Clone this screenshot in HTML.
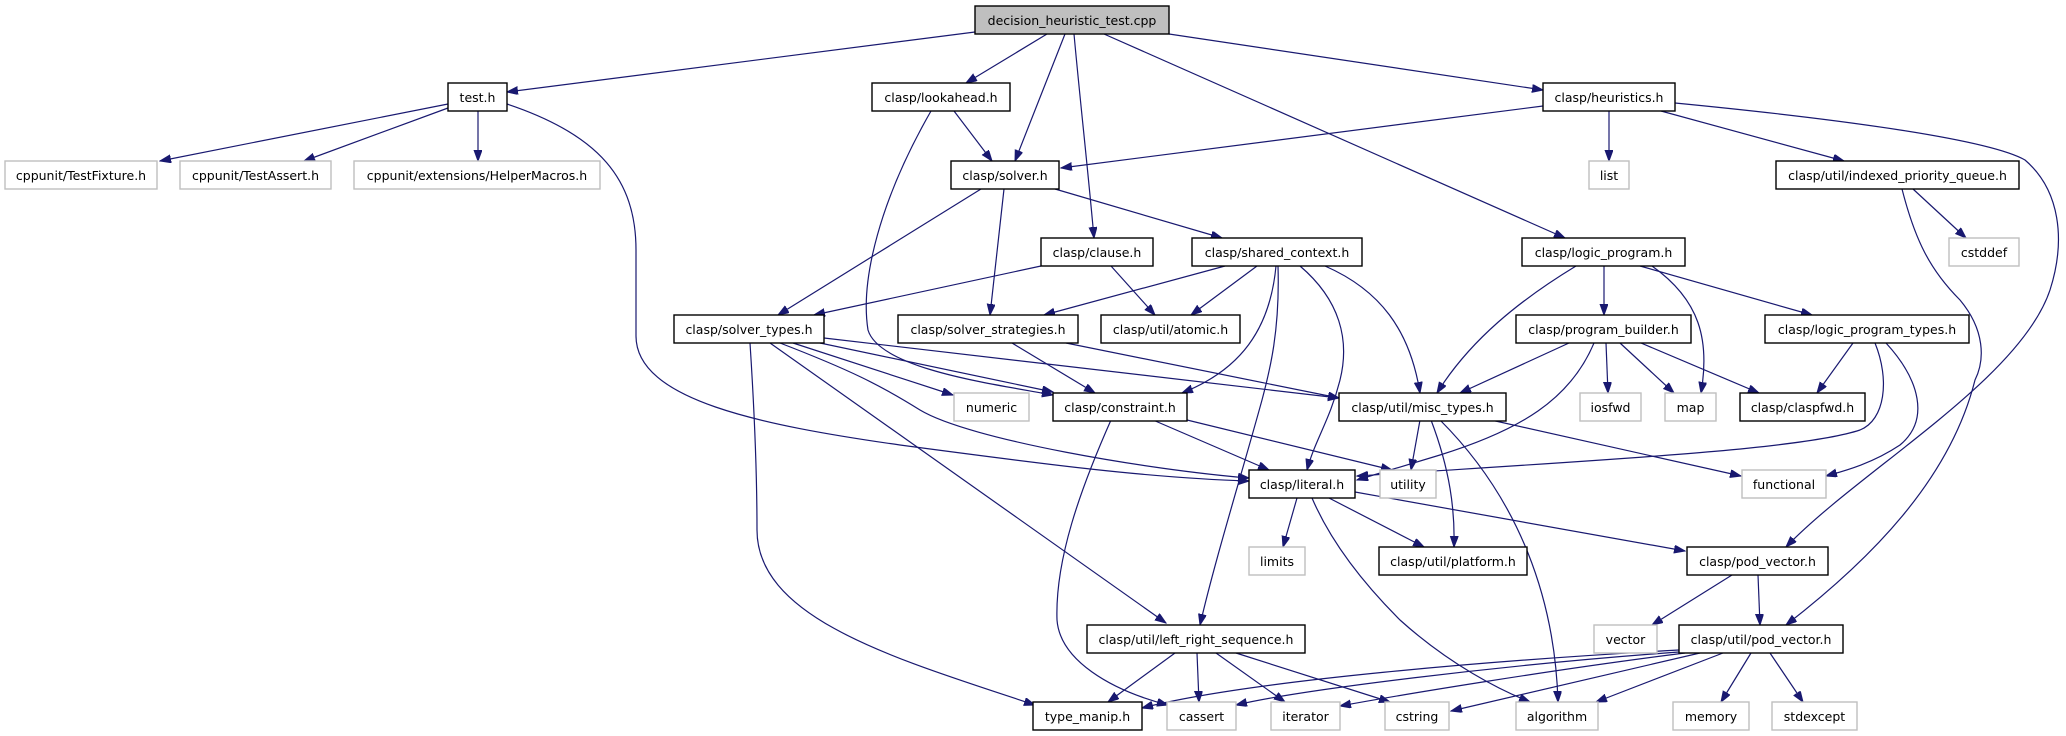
<!DOCTYPE html>
<html><head><meta charset="utf-8"><style>
html,body{margin:0;padding:0;background:#fff;}
svg{display:block;}
text{font-family:"DejaVu Sans","Liberation Sans",sans-serif;font-size:12.5px;text-anchor:middle;fill:#000;}
.n{fill:#fff;stroke:#000;stroke-width:1.4;}
.g{fill:#fff;stroke:#bfbfbf;stroke-width:1.4;}
.e{fill:none;stroke:#191970;stroke-width:1.2;marker-end:url(#a);}
</style></head><body>
<svg width="2066" height="736" viewBox="0 0 2066 736" xmlns="http://www.w3.org/2000/svg">
<defs><marker id="a" markerUnits="userSpaceOnUse" markerWidth="12" markerHeight="9" refX="11" refY="4" orient="auto"><path d="M0,0 L11,4 L0,8 z" fill="#191970" stroke="#191970"/></marker></defs>
<g>
<path class="e" d="M975,32 L507,92"/>
<path class="e" d="M1047,34 L966,83"/>
<path class="e" d="M1065,34 L1015,161"/>
<path class="e" d="M1074,34 C1080,100 1088,170 1094,238"/>
<path class="e" d="M1104,34 L1565,238"/>
<path class="e" d="M1169,34 L1543,90"/>
<path class="e" d="M448,104 L160,161"/>
<path class="e" d="M448,108 L304,161"/>
<path class="e" d="M478,111 L478,161"/>
<path class="e" d="M507,104 C600,135 636,180 636,250 L636,336 C636,400 760,425 900,445 C1050,465 1150,478 1249,481"/>
<path class="e" d="M954,111 L992,161"/>
<path class="e" d="M931,111 C880,200 860,280 868,330 C880,370 1000,385 1053,395"/>
<path class="e" d="M1543,106 L1061,168"/>
<path class="e" d="M1609,111 L1609,161"/>
<path class="e" d="M1661,111 L1844,161"/>
<path class="e" d="M1675,103 C1850,120 1990,140 2025,160 C2060,190 2066,240 2050,290 C2020,380 1860,470 1786,547"/>
<path class="e" d="M1913,189 L1966,238"/>
<path class="e" d="M1902,189 C1915,240 1930,270 1960,300 C1985,330 1985,360 1975,380 C1950,480 1870,560 1786,625"/>
<path class="e" d="M981,189 L778,315"/>
<path class="e" d="M1004,189 L990,315"/>
<path class="e" d="M1055,189 L1222,238"/>
<path class="e" d="M1041,266 L814,315"/>
<path class="e" d="M1111,266 L1155,315"/>
<path class="e" d="M1225,266 L1044,315"/>
<path class="e" d="M1257,266 L1191,315"/>
<path class="e" d="M1276,266 C1270,330 1240,370 1182,393"/>
<path class="e" d="M1278,266 C1280,330 1270,370 1262,400 C1240,480 1215,560 1200,625"/>
<path class="e" d="M1300,266 C1340,300 1350,340 1340,380 C1330,420 1315,440 1307,470"/>
<path class="e" d="M1325,266 C1380,290 1410,330 1420,393"/>
<path class="e" d="M1576,266 C1520,300 1470,340 1437,393"/>
<path class="e" d="M1569,343 L1460,393"/>
<path class="e" d="M1594,343 C1570,400 1520,430 1440,455 L1357,480"/>
<path class="e" d="M1606,343 L1608,393"/>
<path class="e" d="M1620,343 L1674,393"/>
<path class="e" d="M1641,343 L1759,393"/>
<path class="e" d="M1652,266 C1700,300 1710,340 1701,393"/>
<path class="e" d="M1604,266 L1604,315"/>
<path class="e" d="M1640,266 L1812,315"/>
<path class="e" d="M1853,343 L1817,393"/>
<path class="e" d="M1886,343 C1920,380 1930,420 1900,445 C1870,465 1840,472 1826,476"/>
<path class="e" d="M1875,343 C1890,380 1885,420 1860,430 C1800,450 1600,460 1357,476"/>
<path class="e" d="M793,343 L953,395"/>
<path class="e" d="M820,343 L1053,392"/>
<path class="e" d="M824,338 L1339,398"/>
<path class="e" d="M780,343 C850,370 880,385 920,410 C970,440 1150,470 1249,478"/>
<path class="e" d="M770,343 L1166,623"/>
<path class="e" d="M750,343 C755,420 757,480 757,530 C757,620 900,660 1035,705"/>
<path class="e" d="M1012,343 L1095,393"/>
<path class="e" d="M1066,343 L1339,398"/>
<path class="e" d="M1153,420 L1269,470"/>
<path class="e" d="M1187,420 L1392,470"/>
<path class="e" d="M1111,420 C1080,490 1055,560 1057,620 C1060,660 1110,690 1168,705"/>
<path class="e" d="M1420,420 L1411,470"/>
<path class="e" d="M1431,420 C1450,470 1455,510 1454,547"/>
<path class="e" d="M1440,420 C1520,500 1555,600 1558,702"/>
<path class="e" d="M1491,420 L1741,476"/>
<path class="e" d="M1297,498 L1283,547"/>
<path class="e" d="M1329,498 L1424,547"/>
<path class="e" d="M1312,498 C1330,540 1360,580 1400,620 C1450,665 1500,690 1530,702"/>
<path class="e" d="M1355,492 L1685,551"/>
<path class="e" d="M1732,575 L1652,625"/>
<path class="e" d="M1758,575 L1760,625"/>
<path class="e" d="M1175,653 L1108,702"/>
<path class="e" d="M1197,653 L1199,702"/>
<path class="e" d="M1216,653 L1285,702"/>
<path class="e" d="M1236,653 L1390,702"/>
<path class="e" d="M1679,650 C1500,660 1250,680 1142,708"/>
<path class="e" d="M1679,652 C1500,665 1300,690 1236,705"/>
<path class="e" d="M1685,653 C1550,670 1400,695 1340,706"/>
<path class="e" d="M1700,653 L1451,711"/>
<path class="e" d="M1723,653 L1596,702"/>
<path class="e" d="M1751,653 L1721,702"/>
<path class="e" d="M1770,653 L1803,702"/>
</g>
<g>
<rect x="975" y="6" width="194" height="28" fill="#bfbfbf" stroke="#000" stroke-width="1.4"/><text x="1072" y="25">decision_heuristic_test.cpp</text>
<rect class="n" x="448" y="83" width="59" height="28"/><text x="477.5" y="102">test.h</text>
<rect class="n" x="872" y="83" width="138" height="28"/><text x="941" y="102">clasp/lookahead.h</text>
<rect class="n" x="1543" y="83" width="132" height="28"/><text x="1609" y="102">clasp/heuristics.h</text>
<rect class="g" x="5" y="161" width="152" height="28"/><text x="81" y="180">cppunit/TestFixture.h</text>
<rect class="g" x="180" y="161" width="151" height="28"/><text x="255.5" y="180">cppunit/TestAssert.h</text>
<rect class="g" x="354" y="161" width="246" height="28"/><text x="477" y="180">cppunit/extensions/HelperMacros.h</text>
<rect class="n" x="951" y="161" width="108" height="28"/><text x="1005" y="180">clasp/solver.h</text>
<rect class="g" x="1589" y="161" width="40" height="28"/><text x="1609" y="180">list</text>
<rect class="n" x="1776" y="161" width="243" height="28"/><text x="1897.5" y="180">clasp/util/indexed_priority_queue.h</text>
<rect class="n" x="1041" y="238" width="112" height="28"/><text x="1097" y="257">clasp/clause.h</text>
<rect class="n" x="1192" y="238" width="170" height="28"/><text x="1277" y="257">clasp/shared_context.h</text>
<rect class="n" x="1522" y="238" width="163" height="28"/><text x="1603.5" y="257">clasp/logic_program.h</text>
<rect class="g" x="1949" y="238" width="70" height="28"/><text x="1984" y="257">cstddef</text>
<rect class="n" x="674" y="315" width="150" height="28"/><text x="749" y="334">clasp/solver_types.h</text>
<rect class="n" x="898" y="315" width="180" height="28"/><text x="988" y="334">clasp/solver_strategies.h</text>
<rect class="n" x="1101" y="315" width="139" height="28"/><text x="1170.5" y="334">clasp/util/atomic.h</text>
<rect class="n" x="1516" y="315" width="175" height="28"/><text x="1603.5" y="334">clasp/program_builder.h</text>
<rect class="n" x="1765" y="315" width="204" height="28"/><text x="1867" y="334">clasp/logic_program_types.h</text>
<rect class="g" x="954" y="393" width="75" height="28"/><text x="991.5" y="412">numeric</text>
<rect class="n" x="1053" y="393" width="134" height="28"/><text x="1120" y="412">clasp/constraint.h</text>
<rect class="n" x="1339" y="393" width="167" height="28"/><text x="1422.5" y="412">clasp/util/misc_types.h</text>
<rect class="g" x="1580" y="393" width="61" height="28"/><text x="1610.5" y="412">iosfwd</text>
<rect class="g" x="1665" y="393" width="51" height="28"/><text x="1690.5" y="412">map</text>
<rect class="n" x="1740" y="393" width="125" height="28"/><text x="1802.5" y="412">clasp/claspfwd.h</text>
<rect class="n" x="1249" y="470" width="106" height="28"/><text x="1302" y="489">clasp/literal.h</text>
<rect class="g" x="1380" y="470" width="56" height="28"/><text x="1408" y="489">utility</text>
<rect class="g" x="1742" y="470" width="84" height="28"/><text x="1784" y="489">functional</text>
<rect class="g" x="1249" y="547" width="56" height="28"/><text x="1277" y="566">limits</text>
<rect class="n" x="1379" y="547" width="148" height="28"/><text x="1453" y="566">clasp/util/platform.h</text>
<rect class="n" x="1687" y="547" width="141" height="28"/><text x="1757.5" y="566">clasp/pod_vector.h</text>
<rect class="n" x="1087" y="625" width="218" height="28"/><text x="1196" y="644">clasp/util/left_right_sequence.h</text>
<rect class="g" x="1594" y="625" width="63" height="28"/><text x="1625.5" y="644">vector</text>
<rect class="n" x="1679" y="625" width="164" height="28"/><text x="1761" y="644">clasp/util/pod_vector.h</text>
<rect class="n" x="1033" y="702" width="109" height="28"/><text x="1087.5" y="721">type_manip.h</text>
<rect class="g" x="1167" y="702" width="69" height="28"/><text x="1201.5" y="721">cassert</text>
<rect class="g" x="1271" y="702" width="69" height="28"/><text x="1305.5" y="721">iterator</text>
<rect class="g" x="1385" y="702" width="64" height="28"/><text x="1417" y="721">cstring</text>
<rect class="g" x="1516" y="702" width="82" height="28"/><text x="1557" y="721">algorithm</text>
<rect class="g" x="1673" y="702" width="76" height="28"/><text x="1711" y="721">memory</text>
<rect class="g" x="1772" y="702" width="85" height="28"/><text x="1814.5" y="721">stdexcept</text>
</g>
</svg>
</body></html>
